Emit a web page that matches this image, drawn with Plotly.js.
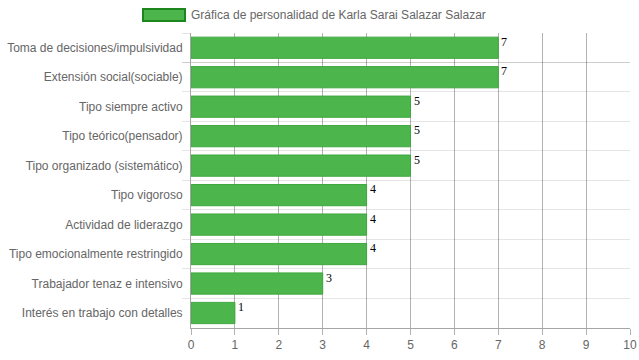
<!DOCTYPE html>
<html><head><meta charset="utf-8">
<script src="https://cdn.plot.ly/plotly-3.0.1.min.js"></script>
<style>body{margin:0;padding:0;background:#fff}#chart{width:639px;height:360px}</style>
</head><body><div id="chart"></div>
<script>
const categories = [
  "Toma de decisiones/impulsividad",
  "Extensión social(sociable)",
  "Tipo siempre activo",
  "Tipo teórico(pensador)",
  "Tipo organizado (sistemático)",
  "Tipo vigoroso",
  "Actividad de liderazgo",
  "Tipo emocionalmente restringido",
  "Trabajador tenaz e intensivo",
  "Interés en trabajo con detalles"
];
const values = [7, 7, 5, 5, 5, 4, 4, 4, 3, 1];
const seriesName = "Gráfica de personalidad de Karla Sarai Salazar Salazar";
const xTicks = [0,1,2,3,4,5,6,7,8,9,10];

const W = 639, H = 360;
const M = {l:191, r:9, t:33, b:32};
const pw = W - M.l - M.r, ph = H - M.t - M.b;
const px = x => (x - M.l) / pw;
const py = y => (H - M.b - y) / ph;

const trace = {
  type: 'bar', orientation: 'h',
  x: values, y: categories, name: seriesName,
  marker: {color: '#4CB54C', line: {color: '#3FA73F', width: 1}},
  hoverinfo: 'x+y', showlegend: false
};

const annotations = values.map((v, i) => ({
  x: v, y: categories[i], xref: 'x', yref: 'y',
  text: String(v), showarrow: false,
  xanchor: 'left', yanchor: 'middle', xshift: 1, yshift: 6,
  font: {family: 'Liberation Serif, Times New Roman, serif', size: 12, color: '#000'}
}));
annotations.push({
  x: px(189), y: py(15), xref: 'paper', yref: 'paper',
  text: seriesName, showarrow: false, xanchor: 'left', yanchor: 'middle',
  font: {family: 'Liberation Sans, Arial, sans-serif', size: 12, color: '#666'}
});

const layout = {
  width: W, height: H,
  margin: M,
  paper_bgcolor: '#fff', plot_bgcolor: '#fff',
  showlegend: false,
  bargap: 0.28,
  font: {family: 'Liberation Sans, Arial, sans-serif', size: 12, color: '#666'},
  xaxis: {
    range: [0, 10], tickvals: xTicks, ticktext: xTicks.map(String),
    showgrid: true, gridcolor: 'rgba(0,0,0,0.3)', gridwidth: 1,
    zeroline: false, showline: true, linecolor: 'rgba(0,0,0,0.35)', linewidth: 1,
    ticks: 'outside', ticklen: 6, tickcolor: 'rgba(0,0,0,0.3)',
    tickfont: {size: 12, color: '#666'}, fixedrange: true
  },
  yaxis: {
    type: 'category', autorange: 'reversed',
    tickson: 'boundaries', showgrid: true, gridcolor: 'rgba(0,0,0,0.1)',
    showline: true, linecolor: 'rgba(0,0,0,0.35)', linewidth: 1,
    ticks: 'outside', ticklen: 8, tickcolor: 'rgba(0,0,0,0.1)',
    ticklabelstandoff: 5,
    tickfont: {size: 12, color: '#666'}, fixedrange: true
  },
  shapes: [{
    type: 'rect', xref: 'paper', yref: 'paper',
    x0: px(143), x1: px(185), y0: py(21), y1: py(9),
    fillcolor: '#4CB54C', line: {color: '#1E861E', width: 2}
  }],
  annotations: annotations
};

Plotly.newPlot('chart', [trace], layout, {displayModeBar: false, staticPlot: true});
</script></body></html>
